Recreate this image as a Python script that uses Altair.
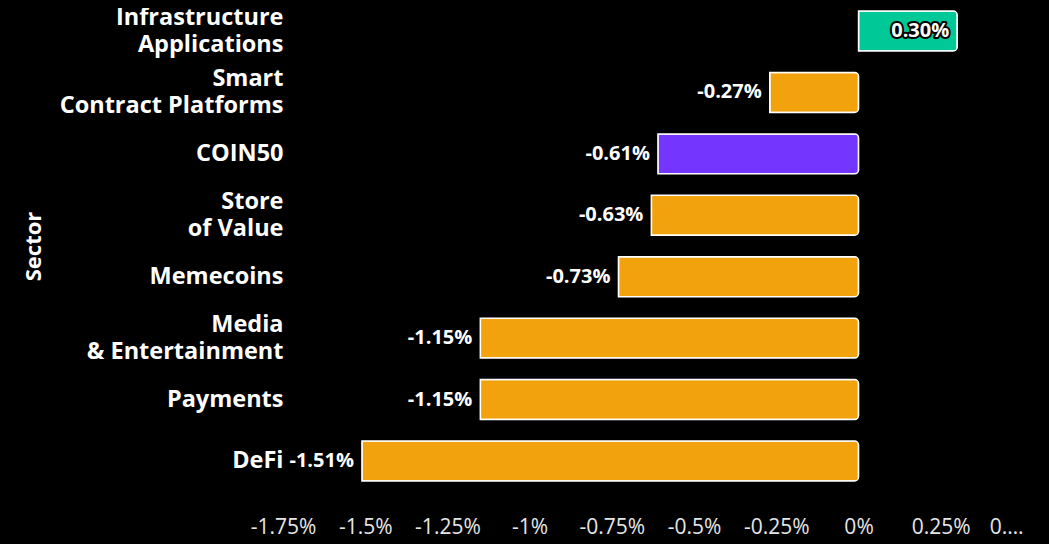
import altair as alt
import pandas as pd

sectors = [
    "Infrastructure\nApplications",
    "Smart\nContract Platforms",
    "COIN50",
    "Store\nof Value",
    "Memecoins",
    "Media\n& Entertainment",
    "Payments",
    "DeFi",
]
values_pct = [0.30, -0.27, -0.61, -0.63, -0.73, -1.15, -1.15, -1.51]
x_ticks_pct = [-1.75, -1.5, -1.25, -1.0, -0.75, -0.5, -0.25, 0.0, 0.25, 0.5]

df = pd.DataFrame({
    "sector": sectors,
    "value": [v / 100 for v in values_pct],
    "label": [f"{v:.2f}%" for v in values_pct],
})

ORANGE = "#F2A20C"
PURPLE = "#7436FF"
GREEN = "#00C896"

base = alt.Chart(df).transform_calculate(
    grp="datum.sector == 'COIN50' ? 'index' : (datum.value > 0 ? 'up' : 'down')"
)

y_enc = alt.Y(
    "sector:N",
    sort=sectors,
    title="Sector",
    scale=alt.Scale(paddingInner=0.35, paddingOuter=0.18),
    axis=alt.Axis(
        labelExpr="split(datum.label, '\\n')",
        labelOffset={"condition": {"test": "indexof(datum.value, '\\n') >= 0", "value": -13.5}, "value": 0},
        labelFont="Open Sans",
        labelFontSize=23.5,
        labelFontWeight="bold",
        labelColor="white",
        labelLineHeight=27,
        labelPadding=0,
        labelLimit=400,
        ticks=False,
        domain=False,
        titleFont="Open Sans",
        titleFontSize=22,
        titleFontWeight="bold",
        titleColor="white",
        titleX=-250,
        titleBaseline="middle",
    ),
)

x_enc = alt.X(
    "value:Q",
    title=None,
    scale=alt.Scale(domain=[-0.0175, 0.005], nice=False, zero=True),
    axis=alt.Axis(
        values=[t / 100 for t in x_ticks_pct],
        format=".2~%",
        labelExpr="datum.value > 0.0049 ? '0.\u2026' : replace(datum.label, '\u2212', '-')",
        labelAlign={"condition": {"test": "datum.value > 0.0049", "value": "right"}, "value": "center"},
        labelFlush=False,
        labelFont="Open Sans",
        labelFontSize=21,
        labelColor="#e6e6e6",
        labelPadding=24,
        ticks=False,
        domain=False,
        grid=False,
        title=None,
    ),
)

bars = base.mark_bar(
    cornerRadiusEnd=4,
    stroke="white",
    strokeWidth=1.5,
).encode(
    y=y_enc,
    x=x_enc,
    color=alt.Color(
        "grp:N",
        scale=alt.Scale(domain=["up", "down", "index"], range=[GREEN, ORANGE, PURPLE]),
        legend=None,
    ),
)

text_common = dict(
    align="right",
    baseline="middle",
    dx=-8,
    font="Open Sans",
    fontSize=20,
    fontWeight="bold",
)

text_outline = base.mark_text(
    color="black",
    stroke="black",
    strokeWidth=4,
    strokeJoin="round",
    **text_common,
).encode(
    y=alt.Y("sector:N", sort=sectors),
    x=alt.X("value:Q"),
    text="label:N",
)

text = base.mark_text(
    color="white",
    **text_common,
).encode(
    y=alt.Y("sector:N", sort=sectors),
    x=alt.X("value:Q"),
    text="label:N",
)

chart = alt.layer(bars, text_outline, text).properties(
    width=740,
    height=492,
    background="black",
    padding={"left": 275, "top": -8, "right": 18, "bottom": 52},
    autosize=alt.AutoSizeParams(type="none"),
).configure(font="Open Sans").configure_view(stroke=None)

chart.save(
    "out.html",
    embed_options={
        "renderer": "svg",
        "actions": False,
        "defaultStyle": "html, body { background: black; }",
    },
)
